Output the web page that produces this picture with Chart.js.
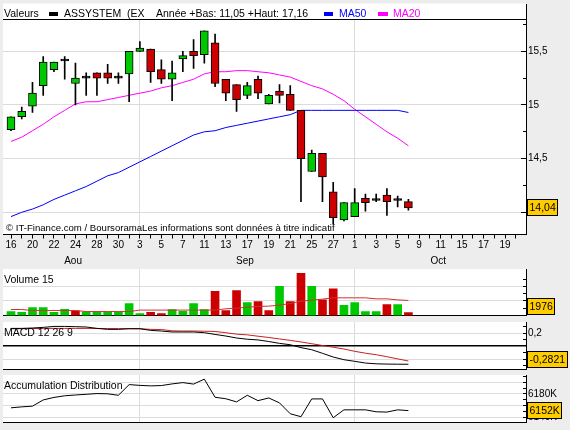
<!DOCTYPE html>
<html><head><meta charset="utf-8">
<script src="https://cdn.jsdelivr.net/npm/chart.js@4.4.0/dist/chart.umd.min.js"></script>
<style>
html,body{margin:0;padding:0;background:#EDEDED;width:570px;height:430px;overflow:hidden}
canvas{position:absolute;left:0;top:0}
</style></head><body>
<canvas id="cMain" width="570" height="430"></canvas>
<canvas id="cVol" width="570" height="430"></canvas>
<canvas id="cMacd" width="570" height="430"></canvas>
<canvas id="cAd" width="570" height="430"></canvas>
<script>
// ---------- data ----------
const dayLabels = ['16','20','22','24','28','30','3','5','7','11','13','17','19','21','25','27','1','3','5','9','11','15','17','19'];
const monthNames = ['Aou','Sep','Oct'];
const monthStart = [0, 12, 32];
const lastDayIndex = 47;

const open  = [14.77,14.89,14.99,15.18,15.33,15.41,15.20,15.25,15.30,15.30,15.25,15.29,15.50,15.52,15.33,15.24,15.43,15.50,15.47,15.58,15.24,15.19,15.09,15.24,15.01,15.13,15.10,14.95,14.38,14.55,14.19,13.93,13.96,14.13,14.11,14.16,14.11,14.10];
const high  = [14.89,14.98,15.21,15.45,15.40,15.45,15.39,15.30,15.30,15.38,15.30,15.50,15.59,15.52,15.42,15.41,15.50,15.61,15.69,15.66,15.24,15.19,15.21,15.27,15.10,15.19,15.18,14.95,14.58,14.55,14.28,14.09,14.22,14.17,14.17,14.22,14.15,14.12];
const low   = [14.76,14.87,14.93,15.09,15.31,15.24,15.00,15.09,15.09,15.20,15.20,15.03,15.50,15.21,15.20,15.04,15.31,15.34,15.39,15.17,15.04,14.94,15.06,15.06,15.01,15.02,14.95,14.10,14.38,14.10,13.89,13.92,13.96,14.01,14.10,13.97,14.05,14.02];
const close = [14.89,14.94,15.11,15.40,15.40,15.41,15.25,15.25,15.25,15.25,15.25,15.50,15.53,15.31,15.24,15.30,15.46,15.46,15.69,15.20,15.11,15.05,15.18,15.11,15.09,15.09,14.95,14.50,14.55,14.33,13.95,14.09,14.09,14.09,14.11,14.10,14.11,14.04];
const ma20  = [14.66,14.70,14.76,14.82,14.89,14.95,15.01,15.03,15.03,15.05,15.07,15.09,15.11,15.13,15.16,15.18,15.21,15.24,15.29,15.31,15.31,15.32,15.32,15.31,15.30,15.28,15.26,15.22,15.18,15.15,15.10,15.04,14.96,14.89,14.82,14.75,14.69,14.62];
const ma50  = [13.96,14.00,14.03,14.07,14.12,14.16,14.20,14.24,14.29,14.34,14.37,14.42,14.47,14.52,14.57,14.62,14.67,14.72,14.75,14.76,14.79,14.81,14.83,14.85,14.87,14.89,14.91,14.95,14.95,14.95,14.95,14.95,14.95,14.95,14.95,14.95,14.95,14.93];
const volume = [2700,2100,5500,5500,2100,4300,3200,2300,2300,2300,2300,8200,1400,2100,1400,4100,2900,8200,4100,16600,3400,17100,8900,9600,3400,19900,9600,28800,19900,10800,18300,6900,8900,2700,2700,7500,7500,1976];
const volMa15 = [4100,4100,3400,3400,3400,3400,3400,2700,2700,2700,2700,2700,3700,3700,3700,3700,3700,3700,3700,3700,4600,5000,5700,6200,6400,7100,8200,9800,10500,11200,12100,12100,12100,12100,11400,11400,10700,10300];
const macd   = [0.278,0.278,0.284,0.294,0.309,0.309,0.305,0.300,0.278,0.263,0.263,0.273,0.273,0.247,0.237,0.222,0.222,0.222,0.211,0.184,0.159,0.128,0.109,0.098,0.073,0.044,0.023,-0.022,-0.055,-0.111,-0.169,-0.211,-0.236,-0.263,-0.275,-0.279,-0.281,-0.2821];
const signal = [0.273,0.273,0.275,0.277,0.278,0.278,0.278,0.278,0.277,0.276,0.275,0.274,0.273,0.263,0.260,0.240,0.237,0.237,0.234,0.230,0.211,0.188,0.177,0.156,0.136,0.113,0.091,0.066,0.039,0.011,-0.016,-0.044,-0.080,-0.109,-0.133,-0.164,-0.198,-0.231];
const accDist = [6156.7,6158.3,6159.5,6170,6174.2,6177,6178.3,6179.5,6180.7,6180.3,6177.8,6195.8,6194.5,6193.7,6194.2,6197,6199.2,6196.7,6205,6174.5,6172,6166.7,6177.8,6168.8,6173.3,6165,6146.7,6141.7,6171.7,6171.7,6140,6153.3,6153.3,6153.3,6150,6149.5,6153.3,6152];

const headerTitle = 'Valeurs';
const headerName = 'ASSYSTEM  (EX';
const headerRange = 'Année +Bas: 11,05 +Haut: 17,16';
const copyright = '© IT-Finance.com / BoursoramaLes informations sont données à titre indicatif';

// ---------- style ----------
const FONT = '"Liberation Sans", Arial, Helvetica, sans-serif';
const GREEN = '#00C800', RED = '#CC0000', GRID = '#DCDCDC', BOX = '#FFCC00';
const X_MIN = -0.745, X_MAX = 47.95;
const fmt = (v, d) => v.toFixed(d).replace('.', ',');
const pts = arr => arr.map((v, i) => ({x: i, y: v}));

function xScaleOpts(main) {
  const lines = monthStart.slice(1);
  return {
    type: 'linear', min: X_MIN, max: X_MAX, offset: false,
    afterBuildTicks: s => {
      const t = [];
      if (main) { for (let i = 0; i <= lastDayIndex; i++) t.push({value: i}); }
      else lines.forEach(v => t.push({value: v}));
      s.ticks = t;
    },
    afterFit: s => { s.height = main ? 35.5 : 0; },
    grid: {
      offset: false,
      color: c => (c.tick && lines.includes(c.tick.value)) ? GRID : 'rgba(0,0,0,0)',
      drawTicks: main, tickLength: 4, tickColor: '#000', lineWidth: 1
    },
    border: {display: true, color: '#000', width: 1},
    ticks: {
      display: main, autoSkip: false, maxRotation: 0, minRotation: 0, padding: 1,
      color: '#000', font: {family: FONT, size: 10},
      callback: v => (v % 2 === 0 && dayLabels[v / 2] !== undefined) ? dayLabels[v / 2] : ''
    }
  };
}

function yScaleOpts(min, max, ticks, labelFn, gridColor, gridWidth) {
  return {
    type: 'linear', position: 'right', min, max,
    afterBuildTicks: s => { s.ticks = ticks.map(v => ({value: v})); },
    afterFit: s => { s.width = 44; },
    grid: {
      color: c => c.tick ? gridColor(c.tick.value) : 'rgba(0,0,0,0)',
      lineWidth: c => (c.tick && gridWidth) ? gridWidth(c.tick.value) : 1,
      drawTicks: false
    },
    border: {display: true, color: '#000', width: 1},
    ticks: {padding: 2, autoSkip: false, color: '#000', font: {family: FONT, size: 10}, callback: v => labelFn(v)}
  };
}

function baseOptions(padTop, padBottom, x, y) {
  return {
    responsive: false, animation: false, events: [],
    layout: {padding: {left: 3, right: 0, top: padTop, bottom: padBottom}},
    plugins: {legend: {display: false}, tooltip: {enabled: false}},
    scales: {x, y}
  };
}

function drawBox(chart, value, text) {
  const {ctx, chartArea: a} = chart;
  const s = chart.scales.y;
  ctx.save();
  ctx.font = '10.5px ' + FONT;
  const w = Math.round(ctx.measureText(text).width + 5);
  const h = 17;
  let top = Math.round(s.getPixelForValue(value) - h / 2);
  if (top + h > a.bottom - 1) top = Math.round(a.bottom - 1 - h);
  if (top < a.top) top = Math.round(a.top);
  const left = Math.round(a.right) + 1;
  ctx.fillStyle = BOX; ctx.fillRect(left, top, w, h);
  ctx.strokeStyle = '#000'; ctx.lineWidth = 1; ctx.strokeRect(left + 0.5, top + 0.5, w - 1, h - 1);
  ctx.fillStyle = '#000'; ctx.textBaseline = 'middle'; ctx.textAlign = 'left';
  ctx.fillText(text, left + 2.5, top + h / 2 + 0.5);
  ctx.restore();
}

function drawInnerTicks(chart, values, lenFn) {
  const {ctx, chartArea: a} = chart;
  const s = chart.scales.y;
  ctx.save(); ctx.fillStyle = '#000';
  values.forEach(v => {
    const py = s.getPixelForValue(v);
    if (py < a.top - 0.5 || py > a.bottom + 0.5) return;
    const L = lenFn(v);
    ctx.fillRect(Math.round(a.right) - L, Math.round(py - 0.5), L, 1);
  });
  ctx.restore();
}

function whiteBg(chart, topY) {
  const {ctx, chartArea: a} = chart;
  ctx.save(); ctx.fillStyle = '#fff';
  ctx.fillRect(a.left, topY, a.right - a.left, a.bottom - topY);
  ctx.restore();
}

function panelLabel(chart, text, y) {
  const {ctx} = chart;
  ctx.save(); ctx.fillStyle = '#000'; ctx.font = '10.5px ' + FONT;
  ctx.textBaseline = 'middle'; ctx.textAlign = 'left';
  ctx.fillText(text, 4, y);
  ctx.restore();
}

// ---------- main price chart ----------
const candleColor = i => close[i] > open[i] ? GREEN : (close[i] < open[i] ? RED : '#000');
const mainDecor = {
  id: 'mainDecor',
  beforeDraw(chart) { whiteBg(chart, 3.5); },
  afterDatasetsDraw(chart) {
    const {ctx} = chart;
    ctx.save(); ctx.fillStyle = '#000'; ctx.font = '9.6px ' + FONT;
    ctx.textBaseline = 'middle'; ctx.textAlign = 'left';
    ctx.fillText(copyright, 6, 228);
    ctx.restore();
  },
  afterDraw(chart) {
    const {ctx, chartArea: a} = chart;
    ctx.save();
    // header
    ctx.font = '10.5px ' + FONT; ctx.textBaseline = 'middle'; ctx.textAlign = 'left';
    ctx.fillStyle = '#000';
    ctx.fillText(headerTitle, 4, 14);
    ctx.fillRect(49, 12, 9, 4);
    ctx.fillText(headerName, 64, 14);
    ctx.fillText(headerRange, 156, 14);
    ctx.fillStyle = '#0000FF'; ctx.fillRect(324, 12, 9, 4); ctx.fillText('MA50', 339, 14);
    ctx.fillStyle = '#FF00FF'; ctx.fillRect(378, 12, 10, 4); ctx.fillText('MA20', 393, 14);
    ctx.fillStyle = '#000';
    ctx.fillRect(a.left, Math.round(a.top) - 1, a.right - a.left, 1);
    ctx.fillRect(Math.round(a.right), 4, 1, Math.round(a.top) - 4);
    // months
    ctx.font = '10px ' + FONT; ctx.textAlign = 'center';
    const xs = chart.scales.x;
    monthNames.forEach((m, k) => {
      const from = monthStart[k];
      const to = k + 1 < monthStart.length ? monthStart[k + 1] - 1 : lastDayIndex;
      ctx.fillText(m, xs.getPixelForValue((from + to) / 2) + 3, 261);
    });
    ctx.restore();
    const tv = []; for (let v = 14; v <= 15.76; v += 0.25) tv.push(v);
    drawInnerTicks(chart, tv, v => Math.abs(v * 2 - Math.round(v * 2)) < 1e-6 ? 5 : 3);
    drawBox(chart, close[close.length - 1], fmt(close[close.length - 1], 2));
  }
};

new Chart(document.getElementById('cMain'), {
  type: 'bar',
  data: {datasets: [
    {type: 'line', data: pts(ma20), borderColor: '#FF00FF', borderWidth: 1, pointRadius: 0, tension: 0, order: 3},
    {type: 'line', data: pts(ma50), borderColor: '#0000FF', borderWidth: 1, pointRadius: 0, tension: 0, order: 2},
    {type: 'bar', data: open.map((o, i) => ({x: i, y: [o, close[i]]})),
     backgroundColor: c => candleColor(c.dataIndex), borderColor: '#000', borderWidth: 1, borderSkipped: false,
     barThickness: 8, minBarLength: 2, grouped: false, order: 0},
    {type: 'bar', data: low.map((l, i) => ({x: i, y: [l, high[i]]})),
     backgroundColor: '#000', borderWidth: 0, barThickness: 1, grouped: false, order: 1}
  ]},
  options: baseOptions(20, 160, xScaleOpts(true),
    yScaleOpts(13.793, 15.792, [14, 14.5, 15, 15.5], v => fmt(v, v % 1 === 0 ? 0 : 1), () => GRID)),
  plugins: [mainDecor]
});

// ---------- volume ----------
const volColor = i => (i === 0 || close[i] >= close[i - 1]) ? GREEN : RED;
new Chart(document.getElementById('cVol'), {
  type: 'bar',
  data: {datasets: [
    {type: 'line', data: pts(volMa15), borderColor: '#D03030', borderWidth: 1, pointRadius: 0, tension: 0, order: 0},
    {type: 'bar', data: pts(volume), backgroundColor: c => volColor(c.dataIndex), borderWidth: 0, barThickness: 8, grouped: false, order: 1}
  ]},
  options: baseOptions(269, 114.5, xScaleOpts(false),
    yScaleOpts(0, 31850, [10000, 20000], () => '', () => GRID)),
  plugins: [{
    id: 'volDecor',
    beforeDraw(chart) { whiteBg(chart, chart.chartArea.top); },
    afterDatasetsDraw(chart) { panelLabel(chart, 'Volume 15', 280); },
    afterDraw(chart) {
      drawInnerTicks(chart, [5000, 10000, 15000, 20000, 25000], () => 3);
      drawBox(chart, volume[volume.length - 1], String(volume[volume.length - 1]));
    }
  }]
});

// ---------- MACD ----------
new Chart(document.getElementById('cMacd'), {
  type: 'line',
  data: {datasets: [
    {data: pts(macd), borderColor: '#000', borderWidth: 1, pointRadius: 0, tension: 0, order: 0},
    {data: pts(signal), borderColor: '#CC2020', borderWidth: 1, pointRadius: 0, tension: 0, order: 1}
  ]},
  options: baseOptions(322, 61, xScaleOpts(false),
    yScaleOpts(-0.356, 0.378, [-0.2, 0, 0.2], v => v === 0 ? '' : fmt(v, 1), v => v === 0 ? '#000' : GRID, v => v === 0 ? 1.5 : 1)),
  plugins: [{
    id: 'macdDecor',
    beforeDraw(chart) { whiteBg(chart, chart.chartArea.top); },
    afterDatasetsDraw(chart) { panelLabel(chart, 'MACD 12 26 9', 333); },
    afterDraw(chart) {
      drawInnerTicks(chart, [-0.3, -0.2, -0.1, 0.1, 0.2, 0.3], () => 3);
      drawBox(chart, macd[macd.length - 1], fmt(macd[macd.length - 1], 4));
    }
  }]
});

// ---------- Accumulation Distribution ----------
new Chart(document.getElementById('cAd'), {
  type: 'line',
  data: {datasets: [
    {data: pts(accDist), borderColor: '#000', borderWidth: 1, pointRadius: 0, tension: 0}
  ]},
  options: baseOptions(375, 8, xScaleOpts(false),
    yScaleOpts(6132.8, 6212, [6140, 6160, 6180, 6200], v => (v === 6180 || v === 6140) ? v + 'K' : '', () => GRID)),
  plugins: [{
    id: 'adDecor',
    beforeDraw(chart) { whiteBg(chart, chart.chartArea.top); },
    afterDatasetsDraw(chart) { panelLabel(chart, 'Accumulation Distribution', 386); },
    afterDraw(chart) {
      drawInnerTicks(chart, [6140, 6150, 6160, 6170, 6180, 6190, 6200, 6210], () => 3);
      drawBox(chart, accDist[accDist.length - 1], Math.round(accDist[accDist.length - 1]) + 'K');
    }
  }]
});
</script>
</body></html>
